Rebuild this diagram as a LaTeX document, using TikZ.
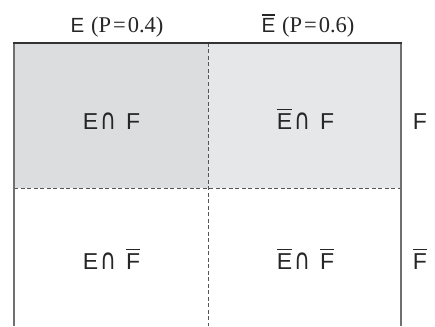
\documentclass[tikz,border=0pt]{standalone}
\usepackage{fontspec}
\usepackage{graphicx}
\setmainfont{Liberation Serif}
\newfontfamily\lsans{Liberation Sans}
\newfontfamily\symfont{DejaVu Sans}
% bar over a letter (complement of an event)
\newcommand\ovl[1]{\vbox{\hrule height 1.3pt\kern 2.8pt\hbox{#1}}}
\newcommand\capsym{{\symfont\scalebox{0.95}[1.25]{∩}}}
\newcommand\inter[2]{#1\hspace{2pt}\capsym\hspace{10pt}#2}
\newcommand\prob[1]{{\rmfamily\fontsize{22.5}{25}\selectfont(P\hspace{2pt}=\hspace{2pt}#1)}}
\definecolor{shadeA}{HTML}{DCDDDE}
\definecolor{shadeB}{HTML}{E6E7E8}
\definecolor{sidegray}{HTML}{707070}
\definecolor{dashgray}{HTML}{555555}
\begin{document}
\begin{tikzpicture}[x=1pt,y=1pt,
  cell/.style={font=\lsans\fontsize{23}{26}\selectfont, anchor=base, inner sep=0pt, text=black!85},
  head/.style={font=\lsans\fontsize{20.5}{24}\selectfont, anchor=base, inner sep=0pt, text=black!85},
  side/.style={draw=sidegray, line width=1.4pt},
  topline/.style={draw=black!80, line width=1.4pt},
  divider/.style={draw=dashgray, line width=1pt, dash pattern=on 4pt off 2.5pt}]
\useasboundingbox (0,0) rectangle (435,-326);
% shaded row for F
\fill[shadeA] (14,-43) rectangle (208,-188);
\fill[shadeB] (208,-43) rectangle (401,-188);
% frame corners and dividers
\coordinate (tl) at (14,-43);
\coordinate (tr) at (401,-43);
\coordinate (bl) at (14,-326);
\coordinate (br) at (401,-326);
\coordinate (tm) at (208,-43);
\coordinate (bm) at (208,-326);
\coordinate (ml) at (14,-188);
\coordinate (mr) at (401,-188);
\draw[divider] (tm) -- (bm);
\draw[divider] (ml) -- (mr);
\draw[side] (tl) -- (bl);
\draw[side] (tr) -- (br);
\draw[topline] ([xshift=-0.7pt]tl) -- ([xshift=0.7pt]tr);
% column headings
\node[head] (hE) at (117,-32.7) {E\hspace{7pt}\prob{0.4}};
\node[head] (hEc) at (308,-32.7) {\ovl{E}\hspace{7pt}\prob{0.6}};
% cells
\node[cell] (c11) at (111.5,-129) {\inter{E}{F}};
\node[cell] (c12) at (305.5,-129) {\inter{\ovl{E}}{F}};
\node[cell] (c21) at (111.5,-269) {\inter{E}{\ovl{F}}};
\node[cell] (c22) at (305.5,-269) {\inter{\ovl{E}}{\ovl{F}}};
% row labels
\node[cell] (rF) at (420,-129) {F};
\node[cell] (rFc) at (420,-269) {\ovl{F}};
\end{tikzpicture}
\end{document}
